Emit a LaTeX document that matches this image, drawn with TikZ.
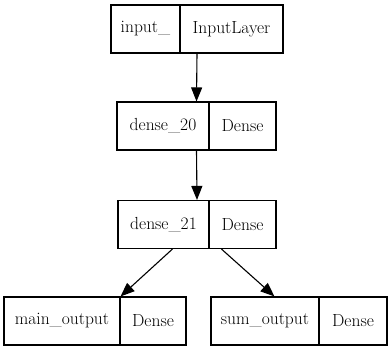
\documentclass[tikz,border=0pt]{standalone}
\usetikzlibrary{arrows.meta,calc}
\begin{document}
\begin{tikzpicture}[x=1pt,y=-1pt,
  cell/.style={draw=black,line width=1.1pt,minimum height=48pt,inner sep=0pt,font=\fontsize{17.5}{22}\selectfont},
  conn/.style={draw=black,line width=1.1pt,-{Triangle[length=14pt,width=11pt]}}]
\useasboundingbox (0,0) rectangle (391,352);
% box 1
\node[cell,minimum width=69pt] (b1l) at (145.5,29) {input\_};
\node[cell,minimum width=103pt] (b1r) at (231.5,29) {InputLayer};
% box 2
\node[cell,minimum width=92pt] (b2l) at (163,126) {dense\_20};
\node[cell,minimum width=67pt] (b2r) at (242.5,126) {Dense};
% box 3
\node[cell,minimum width=91pt] (b3l) at (163.5,224.5) {dense\_21};
\node[cell,minimum width=67pt] (b3r) at (242.5,224.5) {Dense};
% box 4
\node[cell,minimum width=116pt] (b4l) at (62,321) {main\_output};
\node[cell,minimum width=66pt] (b4r) at (153,321) {Dense};
% box 5
\node[cell,minimum width=108pt] (b5l) at (265,321) {sum\_output};
\node[cell,minimum width=68pt] (b5r) at (353,321) {Dense};
% connectors
\draw[conn] ($(b1l.south west)!0.5!(b1r.south east)$) -- ($(b2l.north west)!0.5!(b2r.north east)$);
\draw[conn] ($(b2l.south west)!0.5!(b2r.south east)$) -- ($(b3l.north west)!0.5!(b3r.north east)$);
\draw[conn] ($(b3l.south west)+(55,0)$) -- (b4l.north east);
\draw[conn] ($(b3r.south west)+(13,0)$) -- ($(b5l.north west)+(64,0)$);
\end{tikzpicture}
\end{document}
